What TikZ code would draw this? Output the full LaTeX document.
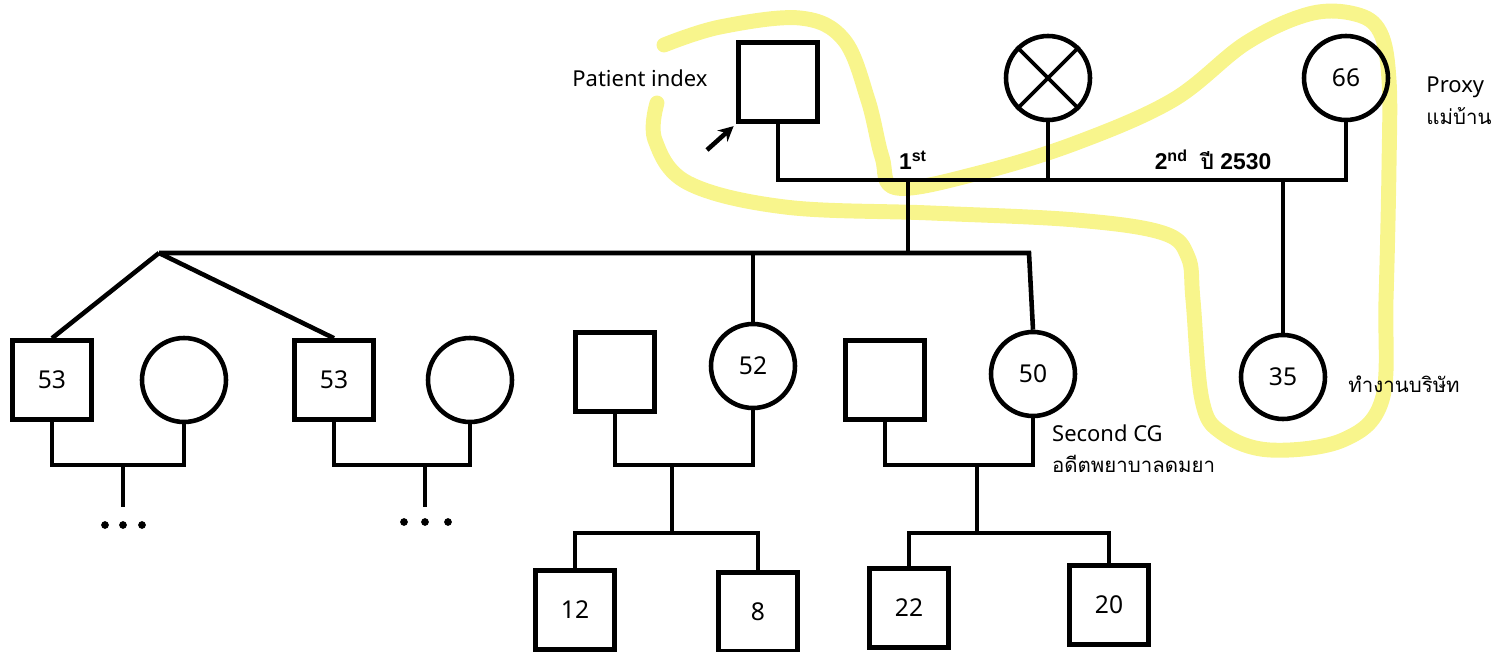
\documentclass[tikz,border=0pt]{standalone}
\usepackage{fontspec}
\setmainfont{Noto Sans}
\newfontfamily\thaifont[Script=Thai, Scale=0.93]{Loma}
\newfontfamily\handfont{Liberation Sans}
\usepackage{tikz}
\usetikzlibrary{arrows.meta, positioning}
\definecolor{hilite}{RGB}{248,245,140}

\begin{document}
\begin{tikzpicture}[x=0.02cm, y=-0.02cm, node distance=0.5cm,
    male/.style={rectangle, draw, line width=2.6pt, minimum size=1.58cm, inner sep=0pt, font=\fontsize{14}{16}\selectfont},
    female/.style={male, circle, minimum size=1.68cm},
    link/.style={line width=2.6pt},
    note/.style={align=left, font=\fontsize{12.5}{18}\selectfont},
    hand/.style={font=\fontsize{13}{15}\selectfont\handfont\bfseries},
    arr/.style={-{Stealth[length=3mm, width=3mm]}, line width=2.6pt}]
    \useasboundingbox (0,0) rectangle (1495,652);
    % Highlighter loop
    \draw[hilite, line width=8.5pt, line cap=round, line join=round]
      plot[smooth, tension=0.6] coordinates {(664,45) (720,27) (800,18) (844,40) (868,100)
        (882,157) (897,188) (979,173) (1076,143) (1173,100) (1246,43) (1309,14) (1355,14)
        (1380,32) (1389,80) (1389,167) (1386,300) (1382,400) (1343,440) (1270,450) (1222,433)
        (1202,400) (1193,300) (1188,257) (1163,233) (1076,220) (931,213) (785,207)
        (688,183) (655,140) (657,103)};
    % Row 1: patient, first wife, second wife
    \node[male] (pi) at (778,82) {};
    \node[female] (dec) at (1048,78) {};
    \node[female] (px) at (1346,78) {66};
    % Row 2: children and spouses
    \node[male] (s53a) at (52,380) {53};
    \node[female] (w53a) at (184,380) {};
    \node[male] (s53b) at (334,380) {53};
    \node[female] (w53b) at (470,380) {};
    \node[male] (h52) at (615,372) {};
    \node[female] (d52) at (753,366) {52};
    \node[male] (h50) at (885,380) {};
    \node[female] (d50) at (1033,374) {50};
    \node[female] (d35) at (1283,377) {35};
    % Row 3: grandchildren
    \node[male] (g12) at (575,610) {12};
    \node[male] (g8) at (758,612) {8};
    \node[male] (g22) at (909,608) {22};
    \node[male] (g20) at (1109,605) {20};
    % Junctions
    \coordinate (mar) at (1050,180);
    \coordinate (k1) at (908,180);
    \coordinate (k2) at (1283,180);
    \coordinate (sibL) at (159,253);
    \coordinate (sibR) at (1029,253);
    \coordinate (u1) at (123,465);
    \coordinate (u2) at (425,465);
    \coordinate (u3) at (672,465);
    \coordinate (u4) at (977,465);
    \coordinate (t3) at (672,533);
    \coordinate (t4) at (977,533);
    \coordinate (tip) at (707,150);
    % Lines
    \draw[link, line width=2.2pt] (dec.45) -- (dec.225) (dec.135) -- (dec.315);
    \draw[link] (pi.south) |- (mar) -| (px.south);
    \draw[link] (dec.south) -- (dec.south |- mar);
    \draw[link] (k1) -- (k1 |- sibL);
    \draw[link] (k2) -- (d35.north);
    \draw[link] (sibL) -- (sibR) -- (d50.north);
    \draw[link] (sibL) -- (s53a.north);
    \draw[link] (sibL) -- (s53b.north);
    \draw[link] (d52.north |- sibL) -- (d52.north);
    \draw[link] (s53a.south) |- (u1) -| (w53a.south);
    \draw[link] (s53b.south) |- (u2) -| (w53b.south);
    \draw[link] (h52.south) |- (u3) -| (d52.south);
    \draw[link] (h50.south) |- (u4) -| (d50.south);
    \draw[link] (u1) -- ++(0,42);
    \draw[link] (u2) -- ++(0,42);
    \draw[link] (u3) -- (t3);
    \draw[link] (u4) -- (t4);
    \draw[link] (g12.north) |- (t3) -| (g8.north);
    \draw[link] (g22.north) |- (t4) -| (g20.north);
    \foreach \x in {105,123,142} \fill (\x,525) circle (2.2pt);
    \foreach \x in {404,425,448} \fill (\x,522) circle (2.2pt);
    \draw[arr, shorten >=2pt] (tip) -- (pi.south west);
    % Labels
    \node[note, left=0.45cm of pi, yshift=0.08cm] (pilab) {Patient index};
    \node[note, right=0.6cm of px, yshift=-0.45cm] (pxlab) {Proxy\\{\thaifont แม่บ้าน}};
    \node[note, right=0.3cm of d35, yshift=-0.15cm] (d35lab) {{\thaifont ทำงานบริษัท}};
    \node[note, anchor=north west] (d50lab) at ([xshift=0.26cm]d50.south) {Second CG\\{\thaifont อดีตพยาบาลดมยา}};
    \node[hand] (first) at (913,160) {1\textsuperscript{st}};
    \node[hand] (second) at (1213,160) {2\textsuperscript{nd}\ \ {\thaifont\bfseries ปี}\ 2530};
  \end{tikzpicture}
\end{document}
